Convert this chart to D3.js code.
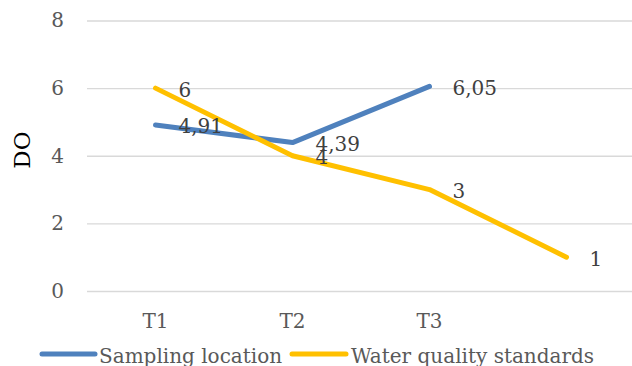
<!DOCTYPE html>
<html>
<head>
<meta charset="utf-8">
<script src="https://cdn.jsdelivr.net/npm/d3@7"></script>
<style>
  html, body { margin: 0; padding: 0; background: #fff; }
  svg { display: block; }
  text { font-family: "DejaVu Serif", "Liberation Serif", serif; }
</style>
</head>
<body>
<svg id="chart" width="632" height="366"></svg>
<script>
// Dissolved oxygen (DO) by sampling time
const categories = ["T1", "T2", "T3", ""];
const seriesNames = ["Sampling location", "Water quality standards"];
const samplingValues = [4.91, 4.39, 6.05];
const standardValues = [6, 4, 3, 1];
const yTicks = [0, 2, 4, 6, 8];
const seriesColors = ["#4F81BD", "#FFC000"];

const FONT = "DejaVu Serif, Liberation Serif, serif";
const svg = d3.select("#chart");
const margin = { left: 87, right: -3, top: 20.5, bottom: 75 };
const W = 632;

const x = d3.scaleBand().domain(categories.map((c, i) => i))
  .range([margin.left, W - margin.right]);
const y = d3.scaleLinear().domain([0, 8]).range([291, 20.5]);

// Gridlines and value axis labels
const yAxis = d3.axisLeft(y).tickValues(yTicks)
  .tickSize(-(W - margin.right - margin.left)).tickPadding(23);
const gy = svg.append("g").attr("transform", `translate(${margin.left},0)`).call(yAxis);
gy.select(".domain").remove();
gy.selectAll(".tick line").attr("stroke", "#d9d9d9").attr("stroke-width", 1.3);
gy.selectAll(".tick text").attr("fill", "#595959").attr("font-size", 20)
  .attr("font-family", FONT);

// Category axis labels
const xAxis = d3.axisBottom(x).tickFormat(i => categories[i]).tickSize(0).tickPadding(23);
const gx = svg.append("g").attr("transform", `translate(0,291)`).call(xAxis);
gx.select(".domain").remove();
gx.selectAll(".tick text").attr("fill", "#595959").attr("font-size", 20)
  .attr("font-family", FONT);

// Axis title
svg.append("text")
  .attr("transform", `translate(30,150) rotate(-90)`)
  .attr("text-anchor", "middle")
  .attr("font-size", 23)
  .attr("fill", "#000")
  .text("DO");

const cx = i => x(i) + x.bandwidth() / 2;
const line = d3.line().x((d, i) => cx(i)).y(d => y(d));

const series = [samplingValues, standardValues];
series.forEach((vals, s) => {
  svg.append("path")
    .datum(vals)
    .attr("d", line)
    .attr("fill", "none")
    .attr("stroke", seriesColors[s])
    .attr("stroke-width", 5)
    .attr("stroke-linecap", "round")
    .attr("stroke-linejoin", "round");
});

// Data labels, to the right of each point
const fmt = v => String(v).replace(".", ",");
series.forEach((vals, s) => {
  svg.append("g").selectAll("text")
    .data(vals)
    .join("text")
    .attr("x", (d, i) => cx(i) + 23)
    .attr("y", d => y(d) + 8.5)
    .attr("font-size", 20)
    .attr("fill", "#404040")
    .text(fmt);
});

// Legend
const legend = svg.append("g").attr("transform", "translate(0,354)");
const legendItems = [
  { x0: 42, x1: 95, tx: 99 },
  { x0: 292, x1: 346, tx: 351 }
];
seriesNames.forEach((name, s) => {
  const it = legendItems[s];
  legend.append("line")
    .attr("x1", it.x0).attr("x2", it.x1).attr("y1", 0).attr("y2", 0)
    .attr("stroke", seriesColors[s]).attr("stroke-width", 5)
    .attr("stroke-linecap", "round");
  legend.append("text")
    .attr("x", it.tx).attr("y", 9)
    .attr("font-size", 20)
    .attr("fill", "#595959")
    .text(name);
});
</script>
</body>
</html>
